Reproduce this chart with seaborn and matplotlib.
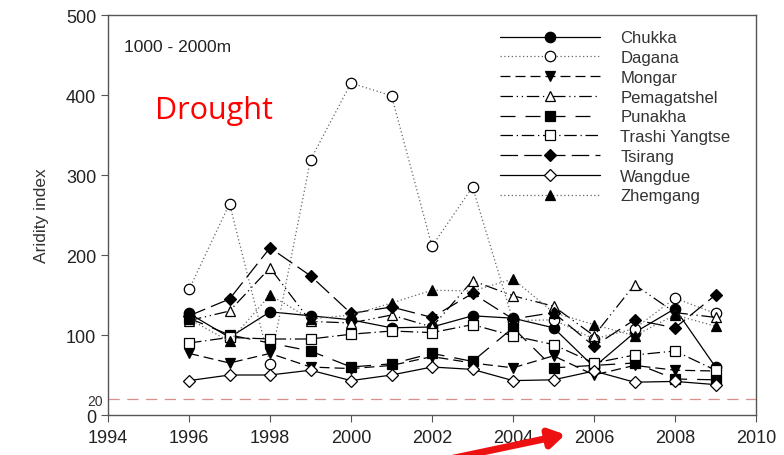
import matplotlib
matplotlib.use("Agg")
import matplotlib.pyplot as plt
import seaborn as sns
import pandas as pd

years = list(range(1996, 2010))
chukka = [127, 97, 129, 124, 119, 109, 110, 124, 121, 109, 60, 103, 133, 60]
dagana = [157, 264, 64, 319, 415, 399, 211, 285, 118, 119, 95, 108, 146, 127]
mongar = [77, 65, 77, 60, 58, 62, 73, 65, 59, 74, 50, 62, 56, 55]
pemagatshel = [118, 130, 184, 117, 115, 125, 110, 168, 149, 136, 99, 163, 128, 122]
punakha = [121, 100, 90, 80, 60, 64, 77, 67, 109, 59, 62, 65, 45, 44]
trashi_yangtse = [90, 97, 95, 95, 101, 105, 103, 113, 99, 88, 65, 75, 80, 56]
tsirang = [124, 145, 209, 174, 127, 135, 122, 152, 120, 128, 86, 119, 109, 150]
wangdue = [43, 50, 50, 56, 43, 50, 60, 57, 43, 44, 55, 41, 42, 38]
zhemgang = [120, 92, 150, 120, 125, 140, 156, 155, 170, 128, 113, 99, 125, 111]

names = ["Chukka", "Dagana", "Mongar", "Pemagatshel", "Punakha",
         "Trashi Yangtse", "Tsirang", "Wangdue", "Zhemgang"]
series = [chukka, dagana, mongar, pemagatshel, punakha,
          trashi_yangtse, tsirang, wangdue, zhemgang]
threshold = 20
x_ticks = [1994, 1996, 1998, 2000, 2002, 2004, 2006, 2008, 2010]
y_ticks = [0, 100, 200, 300, 400, 500]

styles = {
    "Chukka": dict(ls="-", marker="o", mfc="black", c="black"),
    "Dagana": dict(ls=(0, (1, 2)), marker="o", mfc="white", c="#666666"),
    "Mongar": dict(ls=(0, (8, 4)), marker="v", mfc="black", c="black"),
    "Pemagatshel": dict(ls=(0, (10, 3, 1, 3, 1, 3)), marker="^", mfc="white", c="black"),
    "Punakha": dict(ls=(0, (12, 8)), marker="s", mfc="black", c="black"),
    "Trashi Yangtse": dict(ls=(0, (10, 3, 1, 3)), marker="s", mfc="white", c="black"),
    "Tsirang": dict(ls=(0, (14, 5)), marker="D", mfc="black", c="black"),
    "Wangdue": dict(ls="-", marker="D", mfc="white", c="black"),
    "Zhemgang": dict(ls=(0, (1, 2)), marker="^", mfc="black", c="#666666"),
}

sns.set_style("ticks")
plt.rcParams["font.family"] = ["Liberation Sans", "DejaVu Sans"]

fig = plt.figure(figsize=(7.84, 4.56), dpi=100)
ax = fig.add_axes([0.1378, 0.0877, 0.8265, 0.8772])

for name, vals in zip(names, series):
    st = styles[name]
    df = pd.DataFrame({"year": years, "value": vals})
    msize = 7.5 if st["marker"] != "D" else 6.5
    sns.lineplot(data=df, x="year", y="value", ax=ax, color=st["c"],
                 linestyle=st["ls"], linewidth=0.9, marker=st["marker"],
                 markersize=msize, markerfacecolor=st["mfc"],
                 markeredgecolor="black", markeredgewidth=0.9, label=name)

ax.axhline(threshold, color="#d9908c", linestyle=(0, (9, 6)), linewidth=0.9)

ax.set_xlim(1994, 2010)
ax.set_ylim(0, 500)
ax.set_xticks(x_ticks)
ax.set_yticks(y_ticks)
ax.set_yticks([threshold], labels=[str(threshold)], minor=True)
ax.tick_params(axis="y", which="minor", length=0, labelsize=10, colors="#333333")
ax.tick_params(axis="both", which="major", direction="out", length=5,
               labelsize=13, colors="#555555", labelcolor="#222222")
ax.tick_params(axis="x", which="major", pad=5)
ax.set_xlabel("")
ax.set_ylabel("Aridity index", fontsize=12.5, color="#333333", labelpad=12)
for sp in ax.spines.values():
    sp.set_visible(True)
    sp.set_color("#555555")
    sp.set_linewidth(1.0)

leg = ax.legend(loc="upper left", bbox_to_anchor=(0.595, 0.978), frameon=False,
                fontsize=12, handlelength=6.0, labelspacing=0.285,
                handletextpad=1.2, borderaxespad=0.0)
for t in leg.get_texts():
    t.set_color("#333333")

ax.text(1994.4, 461, "1000 - 2000m", fontsize=12.5, color="#222222",
        va="center", ha="left")
ax.text(1995.15, 381, "Drought", fontsize=22, color="red", va="center",
        ha="left", family=["Open Sans", "DejaVu Sans"])

ax.annotate("", xy=(568, 21), xycoords="figure pixels",
            xytext=(440, -6), textcoords="figure pixels",
            arrowprops=dict(arrowstyle="-|>,head_length=0.9,head_width=0.55",
                            color="#ee1111", lw=5),
            annotation_clip=False)

fig.savefig("out.png", dpi=100)
